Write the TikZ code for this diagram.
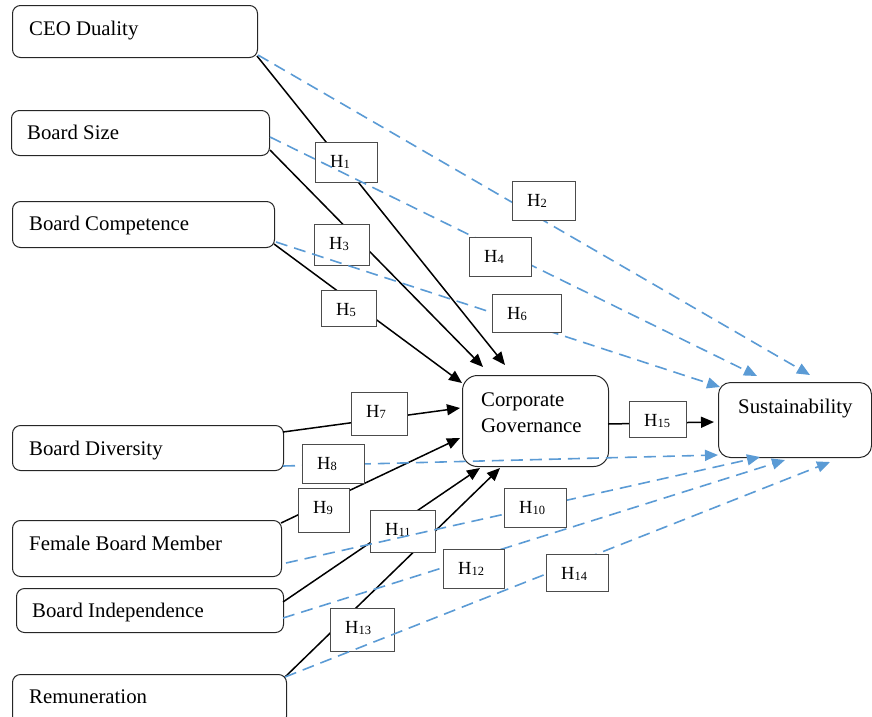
\documentclass[tikz,border=0pt]{standalone}
\usepackage{fontspec}
\setmainfont{Liberation Serif}
\usetikzlibrary{arrows.meta,calc}
\definecolor{sblue}{RGB}{91,155,213}
\newcommand\hsub[1]{\raisebox{-1pt}{\fontsize{12.5}{12.5}\selectfont #1}}
\newcommand\hyp[6]{%
  \node[lbox, minimum width=#4pt, minimum height=#5pt] (#1) at (#2,#3) {};
  \node[ltext] (#1t) at (#2+15,#3+25.5) {H\hsub{#6}};}
\begin{document}
\begin{tikzpicture}[x=1pt,y=-1pt,
  mbox/.style={draw=black!85, line width=1pt, rounded corners=8pt, fill=white, inner sep=0pt, anchor=north west},
  lbox/.style={draw=black!70, line width=1pt, fill=white, inner sep=0pt, anchor=north west},
  mtext/.style={anchor=base west, inner sep=0pt, font=\fontsize{20.8}{25}\selectfont},
  ltext/.style={anchor=base west, inner sep=0pt, font=\fontsize{18.5}{22}\selectfont},
  solidc/.style={line width=1.5pt, black, -{Triangle[length=13pt,width=11pt]}},
  dashc/.style={line width=1.6pt, sblue, dash pattern=on 12pt off 7pt, -{Triangle[length=13pt,width=11pt]}}]
\clip (0,0) rectangle (872,716);

% main boxes
\node[mbox, minimum width=245pt, minimum height=52pt] (ceo) at (12,5) {};
\node[mtext] (ceoT) at (29,35) {CEO Duality};
\node[mbox, minimum width=258pt, minimum height=45pt] (bsize) at (11,110) {};
\node[mtext] (bsizeT) at (27,139) {Board Size};
\node[mbox, minimum width=262pt, minimum height=46pt] (bcomp) at (12,201) {};
\node[mtext] (bcompT) at (29,230) {Board Competence};
\node[mbox, minimum width=271pt, minimum height=45pt] (bdiv) at (12,425) {};
\node[mtext] (bdivT) at (29,455) {Board Diversity};
\node[mbox, minimum width=269pt, minimum height=56pt] (fbm) at (12,520) {};
\node[mtext] (fbmT) at (29,550) {Female Board Member};
\node[mbox, minimum width=267pt, minimum height=44pt] (bind) at (16,588) {};
\node[mtext] (bindT) at (32,617) {Board Independence};
\node[mbox, minimum width=274pt, minimum height=50pt] (rem) at (12,674) {};
\node[mtext] (remT) at (29,703) {Remuneration};
\node[mbox, rounded corners=15pt, minimum width=146pt, minimum height=91pt] (cg) at (462,375) {};
\node[mtext] (cgT1) at (481,406) {Corporate};
\node[mtext] (cgT2) at (481,432) {Governance};
\node[mbox, rounded corners=12pt, minimum width=153pt, minimum height=75pt] (sust) at (718,382) {};
\node[mtext] (sustT) at (738,413) {Sustainability};

% connector ends
\coordinate (s1) at (257,56);   \coordinate (t1) at (505,365);
\coordinate (s3) at (270,150);  \coordinate (t3) at (483,367);
\coordinate (s5) at (274,244);  \coordinate (t5) at (462,383);
\coordinate (s7) at (283,432);  \coordinate (t7) at (460,408);
\coordinate (s9) at (281,523);  \coordinate (t9) at (460,438);
\coordinate (s11) at (283,602); \coordinate (t11) at (480,468);
\coordinate (s13) at (285,677); \coordinate (t13) at (500,468);
\coordinate (s15) at (608,424); \coordinate (t15) at (714,422);
\coordinate (s2) at (258,55);   \coordinate (t2) at (810,375);
\coordinate (s4) at (270,137);  \coordinate (t4) at (757,376);
\coordinate (s6) at (276,242);  \coordinate (t6) at (720,387);
\coordinate (s8) at (283,466);  \coordinate (t8) at (718,455);
\coordinate (s10) at (286,563); \coordinate (t10) at (760,457);
\coordinate (s12) at (283,618); \coordinate (t12) at (785,460);
\coordinate (s14) at (285,677); \coordinate (t14) at (830,462);

% solid connectors
\foreach \i in {1,3,5,7,9,11,13,15} {\draw[solidc] (s\i) -- (t\i);}
\hyp{h1}{315}{142}{62}{40}{1}
\hyp{h3}{314}{224}{55}{41}{3}
\hyp{h5}{321}{290}{55}{36}{5}
\hyp{h7}{351}{392}{56}{43}{7}
\hyp{h9}{298}{488}{51}{44}{9}
\hyp{h11}{370}{510}{65}{42}{11}
\hyp{h13}{330}{608}{64}{43}{13}
\hyp{h15}{629}{401}{57}{36}{15}

% dashed connectors
\foreach \i in {2,4,6,8,10,12,14} {\draw[dashc] (s\i) -- (t\i);}
\hyp{h2}{512}{181}{63}{39}{2}
\hyp{h4}{469}{237}{62}{39}{4}
\hyp{h6}{492}{294}{69}{38}{6}
\hyp{h8}{302}{444}{62}{39}{8}
\hyp{h10}{504}{488}{62}{39}{10}
\hyp{h12}{443}{549}{61}{39}{12}
\hyp{h14}{546}{554}{62}{37}{14}
\end{tikzpicture}
\end{document}
